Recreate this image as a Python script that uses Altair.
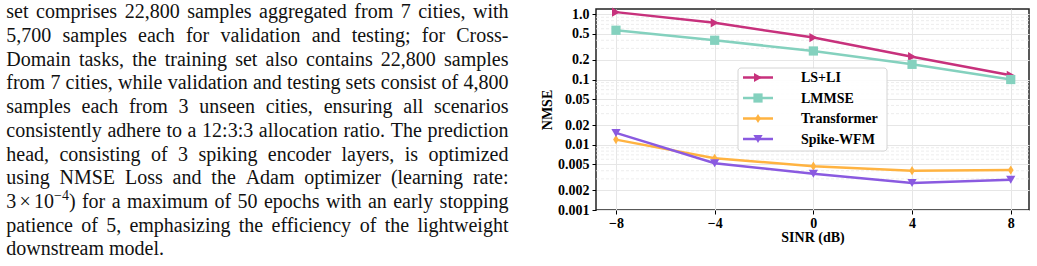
import altair as alt
import pandas as pd

# ---- measured NMSE versus SINR -------------------------------------------
sinr = [-8, -4, 0, 4, 8]
ls_li = [1.08, 0.74, 0.44, 0.224, 0.116]
lmmse = [0.57, 0.40, 0.274, 0.171, 0.100]
transformer = [0.0120, 0.0062, 0.0047, 0.0040, 0.0041]
spike_wfm = [0.0152, 0.0052, 0.0036, 0.0026, 0.0029]

series_names = ["LS+LI", "LMMSE", "Transformer", "Spike-WFM"]
series_values = [ls_li, lmmse, transformer, spike_wfm]
series_colors = ["#c7317c", "#84d1be", "#ffb341", "#8a5ae0"]
series_shapes = ["triangle-right", "square", "M0,-1L0.62,0L0,1L-0.62,0Z", "triangle-down"]

x_ticks = [-8, -4, 0, 4, 8]
y_ticks = [0.001, 0.002, 0.005, 0.01, 0.02, 0.05, 0.1, 0.2, 0.5, 1.0]
y_minor = [0.003, 0.004, 0.006, 0.007, 0.008, 0.009,
           0.03, 0.04, 0.06, 0.07, 0.08, 0.09,
           0.3, 0.4, 0.6, 0.7, 0.8, 0.9]

# ---- accompanying paragraph ({...} marks a superscript) -------------------
paragraph = [
    "set comprises 22,800 samples aggregated from 7 cities, with",
    "5,700 samples each for validation and testing; for Cross-",
    "Domain tasks, the training set also contains 22,800 samples",
    "from 7 cities, while validation and testing sets consist of 4,800",
    "samples each from 3 unseen cities, ensuring all scenarios",
    "consistently adhere to a 12:3:3 allocation ratio. The prediction",
    "head, consisting of 3 spiking encoder layers, is optimized",
    "using NMSE Loss and the Adam optimizer (learning rate:",
    "3×10{−4}) for a maximum of 50 epochs with an early stopping",
    "patience of 5, emphasizing the efficiency of the lightweight",
    "downstream model.",
]

SERIF = "Liberation Serif, Times New Roman, serif"

# plot area geometry (pixels)
W, H = 433, 201
PAD = {"left": 596, "top": 9, "right": 8, "bottom": 56}

# ---- paragraph layout: justified lines using Times advance widths ---------
ADV = {
    " ": 250, ",": 250, ".": 250, ";": 278, ":": 278, "-": 333, "(": 333, ")": 333,
    "×": 564, "−": 564,
    "A": 722, "C": 667, "D": 722, "E": 611, "L": 611, "M": 889, "N": 722,
    "S": 556, "T": 611,
    "a": 444, "b": 500, "c": 444, "d": 500, "e": 444, "f": 333, "g": 500,
    "h": 500, "i": 278, "j": 278, "k": 500, "l": 278, "m": 778, "n": 500,
    "o": 500, "p": 500, "q": 500, "r": 333, "s": 389, "t": 278, "u": 500,
    "v": 500, "w": 722, "x": 500, "y": 500, "z": 444,
}
for d in "0123456789":
    ADV[d] = 500

FS = 20.0
SUP = 0.7
LEFT_X = 6.3 - PAD["left"]
RIGHT_X = 508.5 - PAD["left"]
BASE_Y = 18.3 - PAD["top"]
LEAD = 23.7


def adv(s, fs):
    return sum(ADV.get(ch, 500) for ch in s) / 1000.0 * fs


def pieces(word):
    """Split a word into (text, size, raise, pad_before, pad_after)."""
    out, buf, i = [], "", 0
    while i < len(word):
        ch = word[i]
        if ch == "{":
            if buf:
                out.append((buf, FS, 0.0, 0.0, 0.0)); buf = ""
            j = word.index("}", i)
            out.append((word[i + 1:j], FS * SUP, FS * 0.38, 0.0, 0.0))
            i = j + 1
            continue
        if ch == "×":
            if buf:
                out.append((buf, FS, 0.0, 0.0, 0.0)); buf = ""
            out.append(("×", FS, 0.0, 0.16 * FS, 0.16 * FS))
        else:
            buf += ch
        i += 1
    if buf:
        out.append((buf, FS, 0.0, 0.0, 0.0))
    return out


rows = []
for li, line in enumerate(paragraph):
    words = line.split(" ")
    wp = [pieces(w) for w in words]
    widths = [sum(p[3] + adv(p[0], p[1]) + p[4] for p in ps) for ps in wp]
    last = li == len(paragraph) - 1
    gap = adv(" ", FS) if last else (RIGHT_X - LEFT_X - sum(widths)) / (len(words) - 1)
    x = LEFT_X
    base = BASE_Y + li * LEAD
    for ps, wdt in zip(wp, widths):
        cx = x
        for t, fs, rise, pb, pa in ps:
            cx += pb
            rows.append({"t": t, "px": cx, "py": base - rise, "fs": fs})
            cx += adv(t, fs) + pa
        x += wdt + gap
words_df = pd.DataFrame(rows)

text_layer = alt.Chart(words_df).mark_text(
    align="left", baseline="alphabetic", font=SERIF, color="#111111"
).encode(
    x=alt.X("px:Q", scale=None, axis=None),
    y=alt.Y("py:Q", scale=None, axis=None),
    size=alt.Size("fs:Q", scale=None, legend=None),
    text="t:N",
)

# ---- line chart ------------------------------------------------------------
df = pd.DataFrame(
    [{"sinr": s, "nmse": v, "series": n}
     for n, vals in zip(series_names, series_values)
     for s, v in zip(sinr, vals)]
)

x_scale = alt.Scale(domain=[-8.81, 8.74], nice=False, zero=False)
y_scale = alt.Scale(type="log", domain=[0.001, 1.206], nice=False)
x_axis = alt.Axis(values=x_ticks, title="SINR (dB)", grid=True,
                  labelPadding=2, titlePadding=0)
y_axis = alt.Axis(values=y_ticks, title="NMSE", grid=True,
                  labelExpr="datum.value >= 1 ? '1.0' : format(datum.value, '~g')",
                  labelPadding=3, titlePadding=3)

base = alt.Chart(df).encode(
    x=alt.X("sinr:Q", scale=x_scale, axis=x_axis),
    y=alt.Y("nmse:Q", scale=y_scale, axis=y_axis),
    color=alt.Color("series:N", scale=alt.Scale(domain=series_names, range=series_colors),
                    legend=None),
)

lines = base.mark_line(strokeWidth=2.5)
points = base.mark_point(filled=True, size=85, opacity=1).encode(
    shape=alt.Shape("series:N", scale=alt.Scale(domain=series_names, range=series_shapes),
                    legend=None)
)

minor_grid = alt.Chart(pd.DataFrame({"v": y_minor})).mark_rule(
    color="#e9e9e9", strokeWidth=0.8, strokeDash=[3, 2]
).encode(
    y=alt.Y("v:Q", scale=y_scale, axis=y_axis),
    x=alt.value(0),
    x2=alt.value(W),
)

plot = alt.layer(minor_grid, lines, points)

# ---- legend box --------------------------------------------------------------
one = pd.DataFrame({"k": [0]})
legend_layers = [
    alt.Chart(one).mark_rect(fill="white", fillOpacity=0.9, stroke="#d4d4d4",
                             strokeWidth=1, cornerRadius=3).encode(
        x=alt.value(142), x2=alt.value(291), y=alt.value(59), y2=alt.value(142))
]
for i, (name, col, shp) in enumerate(zip(series_names, series_colors, series_shapes)):
    yy = 68.5 + i * 20.5
    legend_layers.append(
        alt.Chart(one).mark_rule(color=col, strokeWidth=2.5).encode(
            x=alt.value(147), x2=alt.value(177), y=alt.value(yy)))
    legend_layers.append(
        alt.Chart(one).mark_point(filled=True, opacity=1, size=85, shape=shp, color=col).encode(
            x=alt.value(162), y=alt.value(yy)))
    legend_layers.append(
        alt.Chart(one).mark_text(align="left", baseline="middle", font=SERIF,
                                 fontWeight="bold", fontSize=14, color="black").encode(
            x=alt.value(205), y=alt.value(yy + 0.5), text=alt.value(name)))

chart = alt.layer(plot, *legend_layers, text_layer).resolve_scale(
    x="independent", y="independent"
).properties(
    width=W, height=H,
    autosize=alt.AutoSizeParams(type="none"),
    padding=PAD,
    background="white",
).configure_view(
    stroke="#222222", strokeWidth=1.5
).configure_axis(
    labelFont=SERIF, labelFontWeight="bold", labelFontSize=14, labelColor="black",
    titleFont=SERIF, titleFontWeight="bold", titleFontSize=14, titleColor="black",
    tickColor="black", tickSize=4, tickWidth=1, domain=False,
    gridColor="#e6e6e6", gridWidth=1,
)

chart.save("out.html", embed_options={"renderer": "svg", "actions": False})
